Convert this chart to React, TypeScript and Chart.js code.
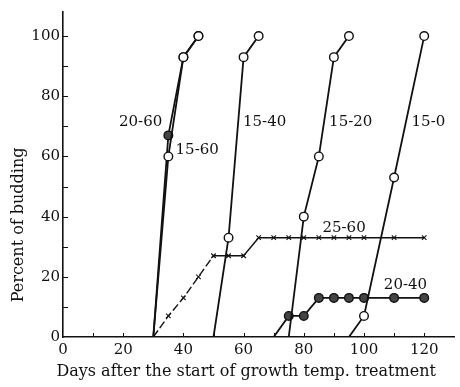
import React, { useEffect, useRef } from "react";
import { Chart, registerables } from "chart.js";

Chart.register(...registerables);

// ---- data (days after start, percent of budding) ----
const days2060 = [30, 35, 40, 45];
const pct2060 = [0, 67, 93, 100];

const days1560 = [30, 35, 40, 45];
const pct1560 = [0, 60, 93, 100];

const days1540 = [50, 55, 60, 65];
const pct1540 = [0, 33, 93, 100];

const days1520 = [75, 80, 85, 90, 95];
const pct1520 = [0, 40, 60, 93, 100];

const days150 = [95, 100, 110, 120];
const pct150 = [0, 7, 53, 100];

const days2560 = [30, 35, 40, 45, 50, 55, 60, 65, 70, 75, 80, 85, 90, 95, 100, 110, 120];
const pct2560 = [0, 7, 13, 20, 27, 27, 27, 33, 33, 33, 33, 33, 33, 33, 33, 33, 33];

const days2040 = [70, 75, 80, 85, 90, 95, 100, 110, 120];
const pct2040 = [0, 7, 7, 13, 13, 13, 13, 13, 13];

// series label texts with anchor in data units
const labelTexts = ["20-60", "15-60", "15-40", "15-20", "15-0", "25-60", "20-40"];
const labelDays = [18.6, 37.4, 59.8, 88.4, 115.8, 86.2, 106.6];
const labelPcts = [71.4, 62.2, 71.4, 71.4, 71.4, 36.2, 17.4];

const xTitle = "Days after the start of growth temp. treatment";
const yTitle = "Percent of budding";

const FONT = "'DejaVu Serif', 'Liberation Serif', serif";
const INK = "#111";

const pts = (xs: number[], ys: number[]) => xs.map((d, i) => ({ x: d, y: ys[i] }));
const radii = (n: number, r: number) => Array.from({ length: n }, (_, i) => (i === 0 ? 0 : r));

const overlay = {
  id: "overlay",
  afterDraw(chart: any) {
    const { ctx, chartArea, scales } = chart;
    const x = scales.x;
    const y = scales.y;
    ctx.save();
    ctx.strokeStyle = INK;
    ctx.lineWidth = 1;
    // inward ticks
    for (let v = 10; v <= 100; v += 10) {
      const py = Math.round(y.getPixelForValue(v)) + 0.5;
      ctx.beginPath();
      ctx.moveTo(chartArea.left, py);
      ctx.lineTo(chartArea.left + 5, py);
      ctx.stroke();
    }
    for (let v = 10; v <= 120; v += 10) {
      const px = Math.round(x.getPixelForValue(v)) + 0.5;
      ctx.beginPath();
      ctx.moveTo(px, chartArea.bottom);
      ctx.lineTo(px, chartArea.bottom - 4);
      ctx.stroke();
    }
    // series labels
    ctx.fillStyle = INK;
    ctx.font = `15px ${FONT}`;
    ctx.textAlign = "left";
    ctx.textBaseline = "middle";
    labelTexts.forEach((t, i) => {
      ctx.fillText(t, x.getPixelForValue(labelDays[i]), y.getPixelForValue(labelPcts[i]));
    });
    // axis titles
    ctx.font = `16px ${FONT}`;
    ctx.textAlign = "center";
    ctx.textBaseline = "middle";
    ctx.fillText(xTitle, chartArea.left + (chartArea.right - chartArea.left) * 0.468, chartArea.bottom + 35);
    ctx.save();
    ctx.translate(19, chartArea.top + (chartArea.bottom - chartArea.top) * 0.655);
    ctx.rotate(-Math.PI / 2);
    ctx.fillText(yTitle, 0, 0);
    ctx.restore();
    ctx.restore();
  },
};

export default function App() {
  const ref = useRef<HTMLCanvasElement>(null);
  useEffect(() => {
    if (!ref.current) return;
    const base = {
      borderColor: INK,
      borderWidth: 1.8,
      pointBorderColor: INK,
      pointBorderWidth: 1.4,
      tension: 0,
      fill: false,
    };
    const openPt = { pointStyle: "circle", pointBackgroundColor: "#fff" };
    const filledPt = { pointStyle: "circle", pointBackgroundColor: "#444" };
    const chart = new Chart(ref.current, {
      type: "line",
      data: {
        datasets: [
          { ...base, ...openPt, label: "15-60", data: pts(days1560, pct1560), pointRadius: radii(4, 4.3) },
          { ...base, ...filledPt, label: "20-60", data: pts(days2060, pct2060), pointRadius: radii(4, 4.3) },
          { ...base, ...openPt, label: "15-40", data: pts(days1540, pct1540), pointRadius: radii(4, 4.3) },
          { ...base, ...openPt, label: "15-20", data: pts(days1520, pct1520), pointRadius: radii(5, 4.3) },
          { ...base, ...openPt, label: "15-0", data: pts(days150, pct150), pointRadius: radii(4, 4.3) },
          { ...base, ...filledPt, label: "20-40", data: pts(days2040, pct2040), pointRadius: radii(9, 4.3) },
          {
            ...base,
            label: "25-60",
            data: pts(days2560, pct2560),
            pointStyle: "crossRot",
            pointRadius: radii(17, 3.2),
            pointBorderWidth: 1.1,
            borderWidth: 1.4,
            segment: {
              borderDash: (c: any) => (c.p0.parsed.x < 50 ? [8, 3] : undefined),
            },
          },
        ],
      } as any,
      options: {
        animation: false,
        responsive: true,
        maintainAspectRatio: false,
        layout: { padding: { top: 8, right: 2, left: 0, bottom: 0 } },
        plugins: { legend: { display: false }, tooltip: { enabled: false } },
        scales: {
          x: {
            type: "linear",
            min: 0,
            max: 130,
            grid: { display: false, drawTicks: false },
            border: { display: true, color: INK, width: 1.6 },
            ticks: {
              stepSize: 20,
              includeBounds: false,
              color: INK,
              font: { family: FONT, size: 15 },
              padding: 4,
              maxRotation: 0,
            },
            afterFit: (s: any) => {
              s.height = 50;
            },
          },
          y: {
            type: "linear",
            min: 0,
            max: 108,
            grid: { display: false, drawTicks: false },
            border: { display: true, color: INK, width: 1.6 },
            ticks: {
              stepSize: 20,
              includeBounds: false,
              color: INK,
              font: { family: FONT, size: 15 },
              padding: 3,
            },
            afterFit: (s: any) => {
              s.width = 63;
            },
          },
        },
      } as any,
      plugins: [overlay],
    });
    return () => chart.destroy();
  }, []);
  return (
    <div style={{ position: "fixed", left: 0, top: 0, width: 460, height: 387, background: "#fff" }}>
      <canvas ref={ref} />
    </div>
  );
}
